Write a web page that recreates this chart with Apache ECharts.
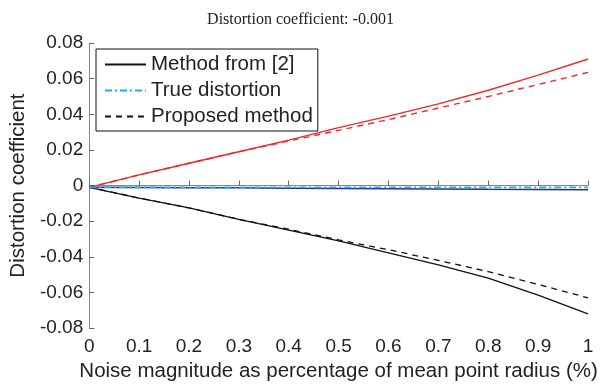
<!DOCTYPE html>
<html>
<head>
<meta charset="utf-8">
<script src="https://cdn.jsdelivr.net/npm/echarts@6/dist/echarts.min.js"></script>
<style>html,body{margin:0;padding:0;background:#fff}#c{width:601px;height:387px}</style>
</head>
<body>
<div id="c"></div>
<script>
var xValues = [0, 0.1, 0.2, 0.3, 0.4, 0.5, 0.6, 0.7, 0.8, 0.9, 1.0];
var redSolid   = [-0.001, 0.006, 0.0125, 0.019, 0.0255, 0.0325, 0.039, 0.0458, 0.0535, 0.062, 0.071];
var redDashed  = [-0.001, 0.006, 0.0125, 0.019, 0.025, 0.031, 0.037, 0.0435, 0.050, 0.0567, 0.0635];
var blackSolid = [-0.001, -0.007, -0.0125, -0.019, -0.025, -0.031, -0.0378, -0.0445, -0.052, -0.0615, -0.072];
var blackDashed= [-0.001, -0.007, -0.0125, -0.019, -0.0245, -0.0305, -0.036, -0.042, -0.0483, -0.0555, -0.063];
var navySolid  = [-0.001, -0.0011, -0.0012, -0.0013, -0.0015, -0.0016, -0.0018, -0.0019, -0.0021, -0.0022, -0.0024];
var trueDist   = [-0.001, -0.001, -0.001, -0.001, -0.001, -0.001, -0.001, -0.001, -0.001, -0.001, -0.001];
var xTickLabels = ['0', '0.1', '0.2', '0.3', '0.4', '0.5', '0.6', '0.7', '0.8', '0.9', '1'];
var yTickLabels = ['-0.08', '-0.06', '-0.04', '-0.02', '0', '0.02', '0.04', '0.06', '0.08'];
var legendNames = ['Method from [2]', 'True distortion', 'Proposed method'];

function pairs(ys) { return xValues.map(function (x, i) { return [x, ys[i]]; }); }
function mk(name, ys, color, type, width, z) {
  return { name: name, type: 'line', data: pairs(ys), showSymbol: false, symbol: 'none',
    lineStyle: { color: color, type: type, width: width }, itemStyle: { color: color }, z: z, animation: false };
}
var font = 'Liberation Sans, Arial, Helvetica, sans-serif';
var chart = echarts.init(document.getElementById('c'));
chart.setOption({
  backgroundColor: '#fff',
  animation: false,
  title: { text: 'Distortion coefficient: -0.001', left: 'center', top: 7,
    textStyle: { fontFamily: 'Liberation Serif, Times New Roman, serif', fontWeight: 'normal', fontSize: 16, color: '#222' } },
  grid: { left: 89, right: 13, top: 43, bottom: 49, containLabel: false },
  legend: {
    data: legendNames, orient: 'vertical', left: 96, top: 49, itemWidth: 41, itemHeight: 14, itemGap: 5,
    padding: [5, 5, 4, 8], borderColor: '#111', borderWidth: 1, backgroundColor: '#fff',
    itemStyle: { opacity: 0 },
    textStyle: { fontFamily: font, fontSize: 20.5, color: '#222', lineHeight: 20 }, selectedMode: false
  },
  xAxis: {
    type: 'value', min: 0, max: 1, interval: 0.1,
    name: 'Noise magnitude as percentage of mean point radius (%)', nameLocation: 'middle', nameGap: 31,
    nameTextStyle: { fontFamily: font, fontSize: 20.5, color: '#222' },
    axisLine: { show: true, lineStyle: { color: '#888', width: 1 } },
    axisTick: { show: true, inside: true, length: 5, lineStyle: { color: '#666' } },
    axisLabel: { fontFamily: font, fontSize: 19, color: '#222', margin: 9,
      formatter: function (v) { return xTickLabels[Math.round(v * 10)]; } },
    splitLine: { show: false }
  },
  yAxis: {
    type: 'value', min: -0.08, max: 0.08, interval: 0.02,
    name: 'Distortion coefficient', nameLocation: 'middle', nameGap: 56,
    nameTextStyle: { fontFamily: font, fontSize: 20.5, color: '#222' },
    axisLine: { show: true, lineStyle: { color: '#888', width: 1 } },
    axisTick: { show: true, inside: true, length: 5, lineStyle: { color: '#666' } },
    axisLabel: { fontFamily: font, fontSize: 19, color: '#222', margin: 6,
      formatter: function (v) { return yTickLabels[Math.round((v + 0.08) / 0.02)]; } },
    splitLine: { show: false }
  },
  series: [
    mk('Method from [2] (red)', redSolid, '#f02828', 'solid', 1.4, 2),
    mk('Proposed method (red)', redDashed, '#f02828', [6, 5], 1.4, 2),
    mk('Method from [2]', blackSolid, '#111', 'solid', 1.3, 3),
    mk('Proposed method', blackDashed, '#111', [6, 5], 1.3, 3),
    mk('Navy', navySolid, '#2b2d8a', 'solid', 1.5, 4),
    mk('True distortion', trueDist, '#19b0ec', [7, 3, 2, 3], 1.8, 5)
  ]
});
</script>
</body>
</html>
